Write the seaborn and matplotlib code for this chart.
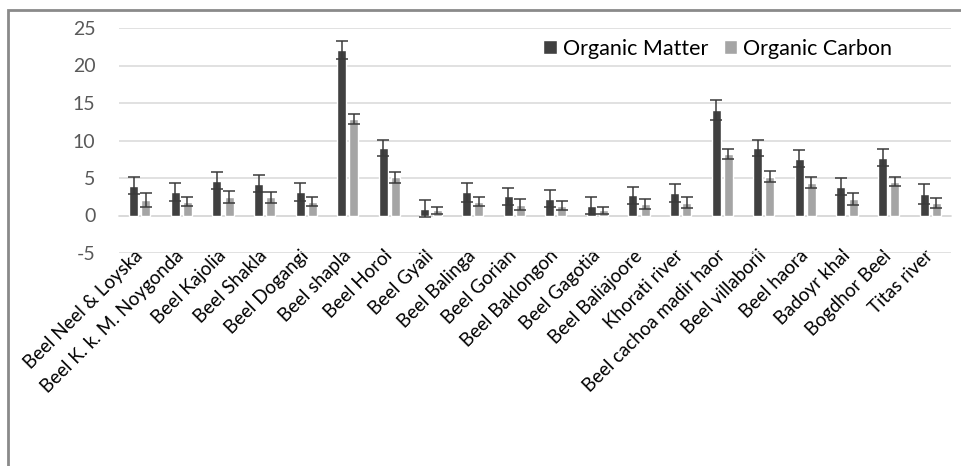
import matplotlib
matplotlib.use("Agg")
import matplotlib.pyplot as plt
import seaborn as sns
import pandas as pd
import numpy as np
from matplotlib.patches import Rectangle

sites = ["Beel Neel & Loyska", "Beel K. k. M. Noygonda", "Beel Kajolia", "Beel Shakla",
         "Beel Dogangi", "Beel shapla", "Beel Horol", "Beel Gyail", "Beel Balinga",
         "Beel Gorian", "Beel Baklongon", "Beel Gagotia", "Beel Baliajoore",
         "Khorati river", "Beel cachoa madir haor", "Beel villaborii", "Beel haora",
         "Badoyr khal", "Bogdhor Beel", "Titas river"]
organic_matter = [4.0, 3.2, 4.62, 4.26, 3.2, 22.06, 8.97, 0.9, 3.1, 2.58, 2.22, 1.33,
                  2.71, 2.98, 14.07, 9.0, 7.6, 3.86, 7.72, 2.85]
organic_matter_sd = [1.15, 1.2, 1.15, 1.15, 1.2, 1.25, 1.1, 1.15, 1.3, 1.15, 1.15, 1.1,
                     1.15, 1.2, 1.3, 1.1, 1.1, 1.1, 1.15, 1.3]
organic_carbon = [2.09, 1.86, 2.53, 2.45, 1.86, 12.85, 5.11, 0.67, 1.86, 1.42, 1.33, 0.67,
                  1.56, 1.73, 8.2, 5.19, 4.4, 2.18, 4.53, 1.65]
organic_carbon_sd = [0.9, 0.65, 0.8, 0.75, 0.65, 0.62, 0.75, 0.5, 0.65, 0.75, 0.6, 0.5,
                     0.65, 0.7, 0.65, 0.7, 0.75, 0.8, 0.62, 0.65]
series = ["Organic Matter", "Organic Carbon"]
y_ticks = [-5, 0, 5, 10, 15, 20, 25]

sns.set_theme(style="white")
plt.rcParams["font.family"] = ["Lato", "DejaVu Sans"]

df = pd.DataFrame({
    "site": sites * 2,
    "value": organic_matter + organic_carbon,
    "series": [series[0]] * len(sites) + [series[1]] * len(sites),
})

fig = plt.figure(figsize=(9.61, 4.66), dpi=100)
ax = fig.add_axes([119 / 961, 1 - 253 / 466, (951 - 119) / 961, (253 - 28) / 466])

palette = {series[0]: "#404040", series[1]: "#a5a5a5"}
sns.barplot(data=df, x="site", y="value", hue="series", order=sites,
            hue_order=series, palette=palette, width=0.58, gap=0.25,
            errorbar=None, saturation=1, ax=ax, zorder=3)

# error bars at the centre of each drawn bar
bars = ax.patches[:2 * len(sites)]
xs = [b.get_x() + b.get_width() / 2 for b in bars]
hs = [b.get_height() for b in bars]
sds = organic_matter_sd + organic_carbon_sd
ax.errorbar(xs, hs, yerr=sds, fmt="none", ecolor="#3a3a3a", elinewidth=1.1,
            capsize=4, capthick=1.1, zorder=4)

ax.set_xlim(-0.5, len(sites) - 0.5)
ax.set_ylim(-5, 25)
ax.set_yticks(y_ticks)
ax.set_yticklabels([str(t) for t in y_ticks], fontsize=14, color="#595959")
ax.tick_params(axis="y", length=0, pad=17)
ax.yaxis.grid(True, color="#d9d9d9", linewidth=1.1, zorder=0)
ax.set_axisbelow(True)

for s in ["top", "right", "left"]:
    ax.spines[s].set_visible(False)
ax.spines["bottom"].set_position(("data", 0))
ax.spines["bottom"].set_color("#d9d9d9")
ax.spines["bottom"].set_linewidth(1.1)

ax.set_xticks(range(len(sites)))
ax.set_xticklabels(sites, rotation=45, ha="right", va="center",
                   rotation_mode="anchor", fontsize=13.5, color="#000000")
ax.tick_params(axis="x", length=0, pad=27)
ax.set_xlabel("")
ax.set_ylabel("")

leg = ax.legend(loc="upper right", bbox_to_anchor=(0.945, 1.01), ncol=2, frameon=False,
                fontsize=15.5, handlelength=0.62, handleheight=0.62, handletextpad=0.3,
                columnspacing=0.7, borderaxespad=0.2)
for t in leg.get_texts():
    t.set_color("#000000")

# outer frame along the left and top edges
fig.patches.append(Rectangle((8 / 961, -0.1), 1.2, 1 - 10 / 466 + 0.1,
                             transform=fig.transFigure, fill=False,
                             edgecolor="#8a8a8a", linewidth=2, zorder=0))

fig.savefig("out.png", dpi=100, facecolor="white")
